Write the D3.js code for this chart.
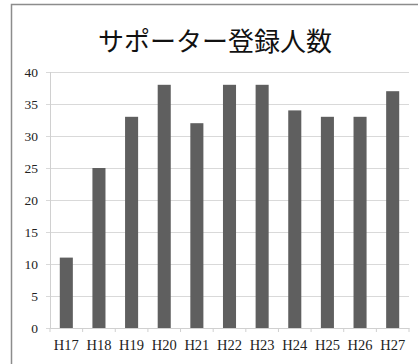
<!DOCTYPE html>
<html>
<head>
<meta charset="utf-8">
<script src="https://cdn.jsdelivr.net/npm/d3@7"></script>
<style>
  body { margin: 0; background: #fff; overflow: hidden; }
  svg { display: block; }
</style>
</head>
<body>
<svg id="chart"></svg>
<script>
var years = ["H17", "H18", "H19", "H20", "H21", "H22", "H23", "H24", "H25", "H26", "H27"]
var supporters = [11, 25, 33, 38, 32, 38, 38, 34, 33, 33, 37]
var yTicks = [0, 5, 10, 15, 20, 25, 30, 35, 40]
var title = "サポーター登録人数"

var dimensions = {
    width: 418,
    height: 364,
    margin: { top: 72, bottom: 36, right: 9, left: 50 }
}

var svg = d3.select("#chart")
    .attr("width", dimensions.width)
    .attr("height", dimensions.height)

// outer frame: only the top and left edges fall inside the picture
svg.append("path")
    .attr("d", "M11.5," + dimensions.height + "V4.5H" + dimensions.width)
    .attr("fill", "none")
    .attr("stroke", "#8c8c8c")
    .attr("stroke-width", 1.5)

var xScale = d3.scaleBand()
    .domain(years)
    .range([dimensions.margin.left, dimensions.width - dimensions.margin.right])
    .paddingInner(0.6)
    .paddingOuter(0.3)

var yScale = d3.scaleLinear()
    .domain([0, 40])
    .range([dimensions.height - dimensions.margin.bottom, dimensions.margin.top])

var serif = "'Liberation Serif', 'DejaVu Serif', serif"

// gridlines + y labels
var yAxisGen = d3.axisLeft(yScale)
    .tickValues(yTicks)
    .tickSize(-(dimensions.width - dimensions.margin.right - dimensions.margin.left))
    .tickPadding(12)

var yAxis = svg.append("g")
    .attr("transform", "translate(" + dimensions.margin.left + ",0)")
    .call(yAxisGen)
yAxis.select(".domain").remove()
yAxis.selectAll(".tick line")
    .attr("x1", -4)
    .attr("stroke", "#d9d9d9")
yAxis.selectAll("text")
    .style("font-family", serif)
    .style("font-size", "13.5px")
    .attr("fill", "#222")

svg.append("line")
    .attr("x1", dimensions.margin.left + 0.5)
    .attr("x2", dimensions.margin.left + 0.5)
    .attr("y1", yScale(40))
    .attr("y2", yScale(0))
    .attr("stroke", "#d0d0d0")

// bars
svg.append("g")
    .selectAll("rect")
    .data(supporters)
    .enter()
    .append("rect")
    .attr("x", (d, i) => xScale(years[i]))
    .attr("y", d => yScale(d))
    .attr("width", xScale.bandwidth())
    .attr("height", d => yScale(0) - yScale(d))
    .attr("fill", "#5f5f5f")

// x axis
var xAxisGen = d3.axisBottom(xScale).tickSize(0).tickPadding(12)
var xAxis = svg.append("g")
    .attr("transform", "translate(0," + yScale(0) + ")")
    .call(xAxisGen)
xAxis.select(".domain").attr("stroke", "#d0d0d0")
xAxis.selectAll("text")
    .style("font-family", serif)
    .style("font-size", "14.5px")
    .attr("fill", "#222")

// tick marks between categories
var bounds = d3.range(years.length + 1).map(i => dimensions.margin.left + i * (dimensions.width - dimensions.margin.right - dimensions.margin.left) / years.length)
svg.append("g")
    .selectAll("line")
    .data(bounds)
    .enter()
    .append("line")
    .attr("x1", d => d)
    .attr("x2", d => d)
    .attr("y1", yScale(0))
    .attr("y2", yScale(0) + 4)
    .attr("stroke", "#d0d0d0")

svg.append("text")
    .attr("x", 215)
    .attr("y", 51)
    .attr("text-anchor", "middle")
    .style("font-family", "'Noto Sans CJK JP', sans-serif")
    .style("font-size", "26px")
    .attr("fill", "#111")
    .text(title)
</script>
</body>
</html>
